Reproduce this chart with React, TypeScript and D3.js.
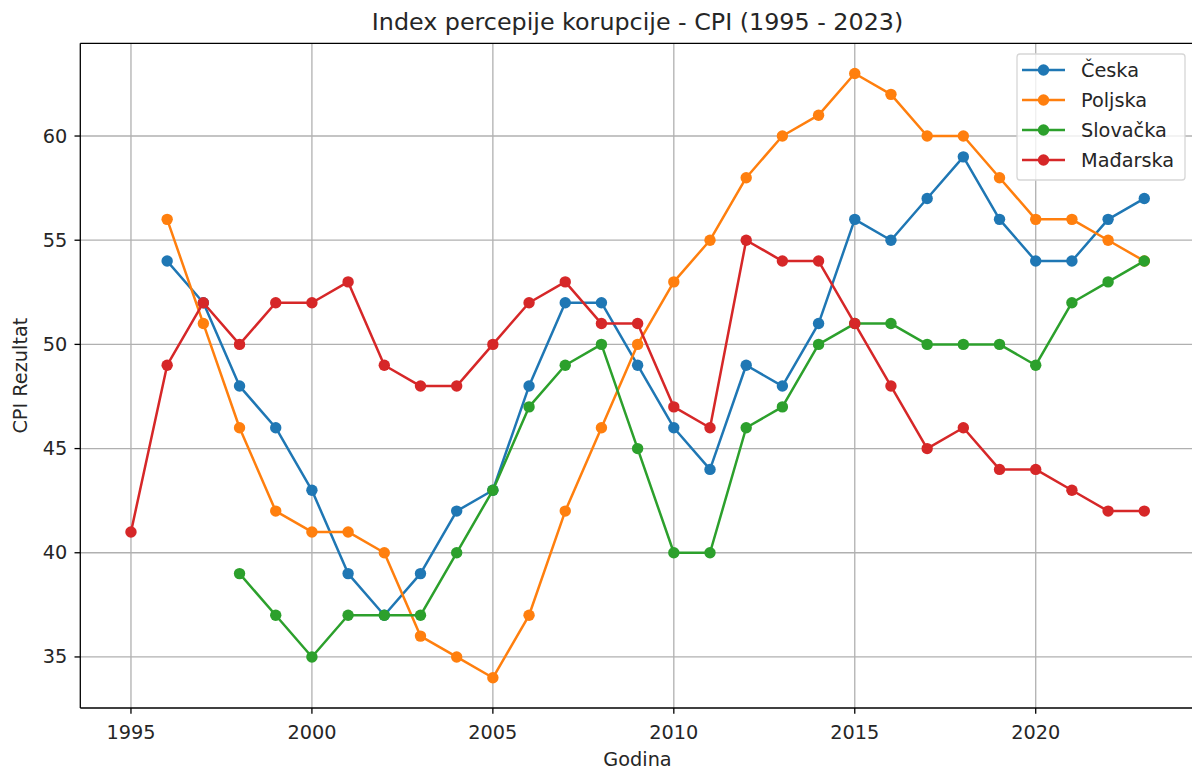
import React from "react";
import * as d3 from "d3";

const years = [1995,1996,1997,1998,1999,2000,2001,2002,2003,2004,2005,2006,2007,2008,2009,2010,2011,2012,2013,2014,2015,2016,2017,2018,2019,2020,2021,2022,2023];

const ceska = [null,54,52,48,46,43,39,37,39,42,43,48,52,52,49,46,44,49,48,51,56,55,57,59,56,54,54,56,57];
const poljska = [null,56,51,46,42,41,41,40,36,35,34,37,42,46,50,53,55,58,60,61,63,62,60,60,58,56,56,55,54];
const slovacka = [null,null,null,39,37,35,37,37,37,40,43,47,49,50,45,40,40,46,47,50,51,51,50,50,50,49,52,53,54];
const madarska = [41,49,52,50,52,52,53,49,48,48,50,52,53,51,51,47,46,55,54,54,51,48,45,46,44,44,43,42,42];

const seriesNames = ["Česka", "Poljska", "Slovačka", "Mađarska"];
const seriesColors = ["#1f77b4", "#ff7f0e", "#2ca02c", "#d62728"];
const seriesValues = [ceska, poljska, slovacka, madarska];

const xTicks = [1995, 2000, 2005, 2010, 2015, 2020];
const yTicks = [35, 40, 45, 50, 55, 60];

const title = "Index percepije korupcije - CPI (1995 - 2023)";
const xLabel = "Godina";
const yLabel = "CPI Rezultat";

export default function App() {
  const W = 1192, H = 767;
  const left = 80.3, right = 1196, top = 43.3, bottom = 708;
  const x = d3.scaleLinear().domain([1993.6, 2024.4]).range([left, 80.3 + (2024.4 - 1993.6) * 36.19]);
  const y = d3.scaleLinear().domain([32.55, 64.45]).range([bottom, top]);
  const font = "'DejaVu Sans', sans-serif";
  const tickFs = 19.3;
  const fg = "#262626";

  const line = d3.line<[number, number | null]>()
    .defined(d => d[1] !== null)
    .x(d => x(d[0]))
    .y(d => y(d[1] as number));

  return (
    <svg width={W} height={H} style={{ position: "absolute", left: 0, top: 0, background: "#fff" }} fontFamily={font}>
      <defs>
        <clipPath id="plot">
          <rect x={left} y={top} width={right - left} height={bottom - top} />
        </clipPath>
      </defs>
      <rect x={0} y={0} width={W} height={H} fill="#fff" />
      {/* grid */}
      <g stroke="#b0b0b0" strokeWidth={1.3}>
        {xTicks.map(t => <line key={"gx" + t} x1={x(t)} x2={x(t)} y1={top} y2={bottom} />)}
        {yTicks.map(t => <line key={"gy" + t} x1={left} x2={right} y1={y(t)} y2={y(t)} />)}
      </g>
      {/* series */}
      <g clipPath="url(#plot)">
        {seriesValues.map((vals, i) => {
          const pts = years.map((yr, j) => [yr, vals[j]] as [number, number | null]);
          return (
            <g key={seriesNames[i]}>
              <path d={line(pts) || ""} fill="none" stroke={seriesColors[i]} strokeWidth={2.5} strokeLinejoin="round" strokeLinecap="square" />
              {pts.filter(p => p[1] !== null).map(p => (
                <circle key={p[0]} cx={x(p[0])} cy={y(p[1] as number)} r={5.7} fill={seriesColors[i]} />
              ))}
            </g>
          );
        })}
      </g>
      {/* spines */}
      <g stroke="#000" strokeWidth={1.3} fill="none">
        <line x1={left} x2={left} y1={top} y2={bottom} />
        <line x1={left} x2={right} y1={bottom} y2={bottom} />
        <line x1={left} x2={right} y1={top} y2={top} />
      </g>
      {/* x ticks */}
      {xTicks.map(t => (
        <g key={"xt" + t}>
          <line x1={x(t)} x2={x(t)} y1={bottom} y2={bottom + 5.8} stroke="#000" strokeWidth={1.3} />
          <text x={x(t)} y={732} textAnchor="middle" dominantBaseline="central" fontSize={tickFs} fill={fg}>{t}</text>
        </g>
      ))}
      {/* y ticks */}
      {yTicks.map(t => (
        <g key={"yt" + t}>
          <line x1={left - 5.8} x2={left} y1={y(t)} y2={y(t)} stroke="#000" strokeWidth={1.3} />
          <text x={left - 13} y={y(t)} textAnchor="end" dominantBaseline="central" fontSize={tickFs} fill={fg}>{t}</text>
        </g>
      ))}
      {/* labels */}
      <text x={637.5} y={759} textAnchor="middle" dominantBaseline="central" fontSize={tickFs} fill={fg}>{xLabel}</text>
      <text transform={`translate(20, ${(top + bottom) / 2}) rotate(-90)`} textAnchor="middle" dominantBaseline="central" fontSize={tickFs} fill={fg}>{yLabel}</text>
      <text x={637.5} y={22} textAnchor="middle" dominantBaseline="central" fontSize={23.8} fill={fg}>{title}</text>
      {/* legend */}
      <g>
        <rect x={1017} y={54} width={168} height={126} rx={3} fill="#fff" fillOpacity={0.8} stroke="#d6d6d6" strokeWidth={1.3} />
        {seriesNames.map((n, i) => {
          const cy = 70 + i * 30;
          return (
            <g key={"lg" + n}>
              <line x1={1022} x2={1065} y1={cy} y2={cy} stroke={seriesColors[i]} strokeWidth={2.5} />
              <circle cx={1043.5} cy={cy} r={5.7} fill={seriesColors[i]} />
              <text x={1081} y={cy} dominantBaseline="central" fontSize={tickFs} fill={fg}>{n}</text>
            </g>
          );
        })}
      </g>
    </svg>
  );
}
